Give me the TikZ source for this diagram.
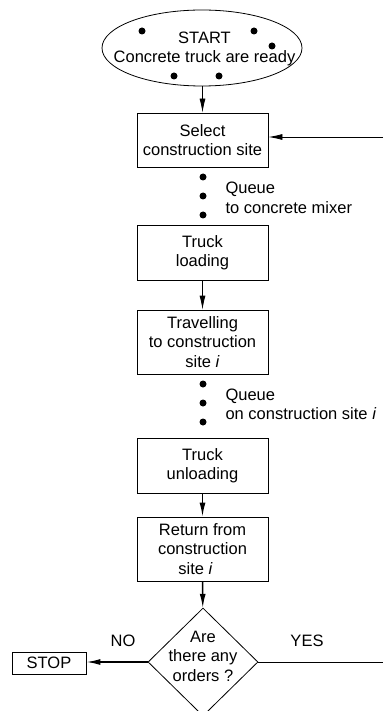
\documentclass[tikz,border=0pt]{standalone}
\usepackage{fontspec}
\setmainfont{Liberation Sans}
\usetikzlibrary{shapes.geometric,arrows.meta}
\begin{document}
\begin{tikzpicture}[x=1pt,y=-1pt,
  every node/.style={font=\fontsize{16.5}{19.5}\selectfont},
  box/.style={draw,line width=0.8pt,minimum width=131pt,inner sep=0pt,align=center},
  dotn/.style={circle,fill,inner sep=0pt,minimum size=7pt},
  arr/.style={line width=0.8pt,-{Latex[length=14pt,width=6pt]}},
  thickarr/.style={line width=1.4pt,-{Latex[length=14pt,width=6pt]}},
  lbl/.style={anchor=west,align=left}]
\useasboundingbox (0,0) rectangle (383,711);
% start ellipse
\node[draw,ellipse,line width=0.8pt,minimum width=200pt,minimum height=76pt,inner sep=0pt] (start) at (202,48) {};
\node[align=center,inner sep=0pt] (starttext) at (204.5,49) {START\\Concrete truck are ready};
\node[dotn] (e1) at (142,31) {};
\node[dotn] (e2) at (254,31) {};
\node[dotn] (e3) at (272,46) {};
\node[dotn] (e4) at (174,76) {};
\node[dotn] (e5) at (219,76) {};
% boxes
\node[box,minimum height=54pt] (select) at (202.5,140) {Select\\construction site};
\node[box,minimum height=55pt] (load) at (202.5,252.5) {Truck\\loading};
\node[box,minimum height=64pt] (travel) at (202.5,342) {Travelling\\to construction\\site \textit{i}};
\node[box,minimum height=55pt] (unload) at (202.5,465.5) {Truck\\unloading};
\node[box,minimum height=64pt] (return) at (202.5,549) {Return from\\construction\\site \textit{i}\kern14pt};
% queues
\node[dotn] (d1) at (203,177) {};
\node[dotn] (d2) at (203,196) {};
\node[dotn] (d3) at (203,215) {};
\node[lbl] (q1) at (222,198) {Queue\\to concrete mixer};
\node[dotn] (d4) at (203,384) {};
\node[dotn] (d5) at (203,403) {};
\node[dotn] (d6) at (203,422) {};
\node[lbl] (q2) at (222,404.5) {Queue\\on construction site \textit{i}};
% decision
\node[draw,diamond,line width=0.8pt,minimum width=110pt,minimum height=108pt,inner sep=0pt] (dec) at (203,662) {};
\node[align=center] (dectext) at (203,656) {Are\\there any\\orders ?};
\node[draw,line width=0.8pt,minimum width=74pt,minimum height=22pt,inner sep=0pt] (stop) at (49,663) {STOP};
\node (no) at (123,641) {NO};
\node (yes) at (307,641) {YES};
\coordinate (r1) at (383,137);
\coordinate (r2) at (383,662);
% connectors
\draw[arr] (select.north |- start.south) -- (select.north);
\draw[arr] (r1) -- (r1 -| select.east);
\draw[arr] (load) -- (travel);
\draw[thickarr] (unload) -- (return);
\draw[thickarr] (return) -- (dec);
\draw[thickarr] (dec.west) -- (dec.west -| stop.east);
\draw[line width=0.8pt] (dec.east) -- (r2);
\end{tikzpicture}
\end{document}
